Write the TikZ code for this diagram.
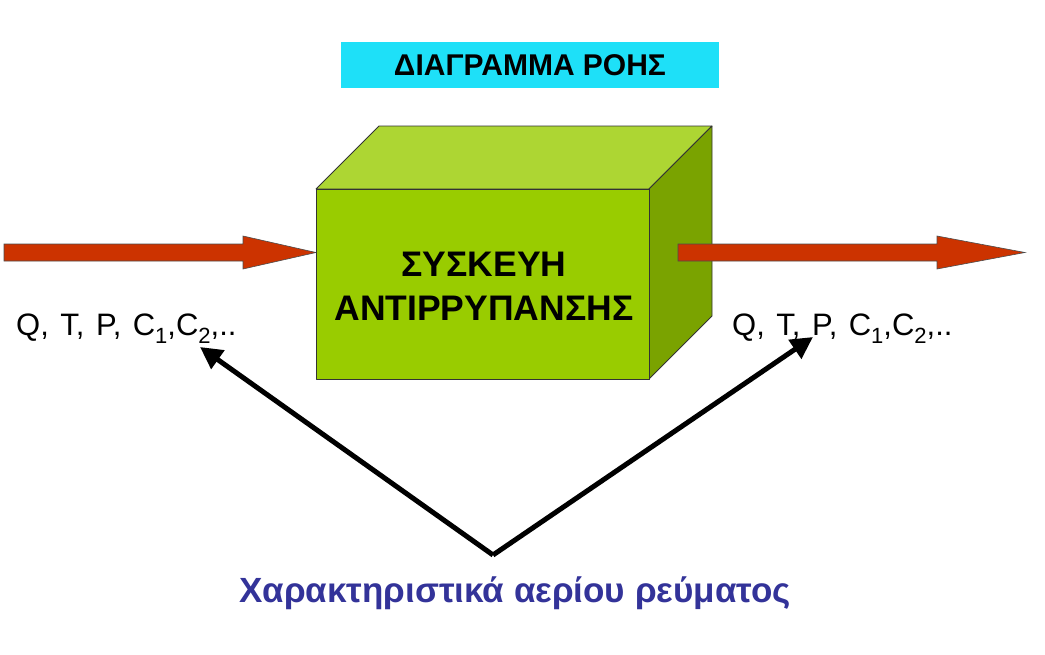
\documentclass[tikz,border=0pt]{standalone}
\usepackage{fontspec}
\setmainfont{Liberation Sans}
\usetikzlibrary{arrows.meta}
\definecolor{titlecyan}{RGB}{30,224,248}
\definecolor{frontgreen}{RGB}{153,204,0}
\definecolor{topgreen}{RGB}{173,214,51}
\definecolor{sidegreen}{RGB}{122,163,0}
\definecolor{flowred}{RGB}{204,51,0}
\definecolor{navy}{RGB}{51,51,153}
\newcommand{\lowsub}[1]{\raisebox{-8pt}{\fontsize{22}{22}\selectfont #1}}
\newcommand{\qlabel}{\spaceskip=11.5pt plus 1pt\relax Q, T, P, C\lowsub{1},C\lowsub{2},..}
\tikzset{
  face/.style={draw=black!80, line width=0.8pt, line join=round},
  flowarrow/.style={fill=flowred, draw=black!70, line width=0.6pt, line join=miter},
  pointer/.style={line width=5pt, -{Triangle[length=22pt,width=22pt]}},
  lbl/.style={font=\fontsize{31}{34}\selectfont, anchor=base west, inner sep=0pt}
}
\begin{document}
\begin{tikzpicture}[x=1pt,y=-1pt]
\useasboundingbox (0,0) rectangle (1045,654);
% title
\node[fill=titlecyan, minimum width=378pt, minimum height=46pt, inner sep=0pt,
      font=\fontsize{30}{34}\selectfont\bfseries] (title) at (530,65) {ΔΙΑΓΡΑΜΜΑ ΡΟΗΣ};
% flow arrows
\draw[flowarrow] (4,244) -- (243,244) -- (243,236) -- (316,252.5) -- (243,269) -- (243,261) -- (4,261) -- cycle;
% box
\draw[face, fill=topgreen] (316,189) -- (379,126) -- (712,126) -- (649,189) -- cycle;
\draw[face, fill=sidegreen] (649,189) -- (712,126) -- (712,316) -- (649,379) -- cycle;
\node[face, fill=frontgreen, minimum width=333pt, minimum height=190pt, inner sep=0pt, anchor=north west] (box) at (316,189) {};
\node[align=center, font=\fontsize{35.5}{44}\selectfont\bfseries] (boxtext) at (484,286) {ΣΥΣΚΕΥΗ\\ΑΝΤΙΡΡΥΠΑΝΣΗΣ};
\draw[flowarrow] (678,244) -- (937,244) -- (937,236) -- (1025,252.5) -- (937,269) -- (937,261) -- (678,261) -- cycle;
% labels
\node[lbl] (lin) at (16,335) {\qlabel};
\node[lbl] (lout) at (732,335) {\qlabel};
% bottom
\coordinate (v) at (493,555);
\coordinate (tipL) at (200,347);
\coordinate (tipR) at (813,337);
\draw[pointer] (v) -- (tipL);
\draw[pointer] (v) -- (tipR);
\node[font=\fontsize{35}{38}\selectfont\bfseries, text=navy, anchor=base] (chars) at (515,602) {Χαρακτηριστικά αερίου ρεύματος};
\end{tikzpicture}
\end{document}
